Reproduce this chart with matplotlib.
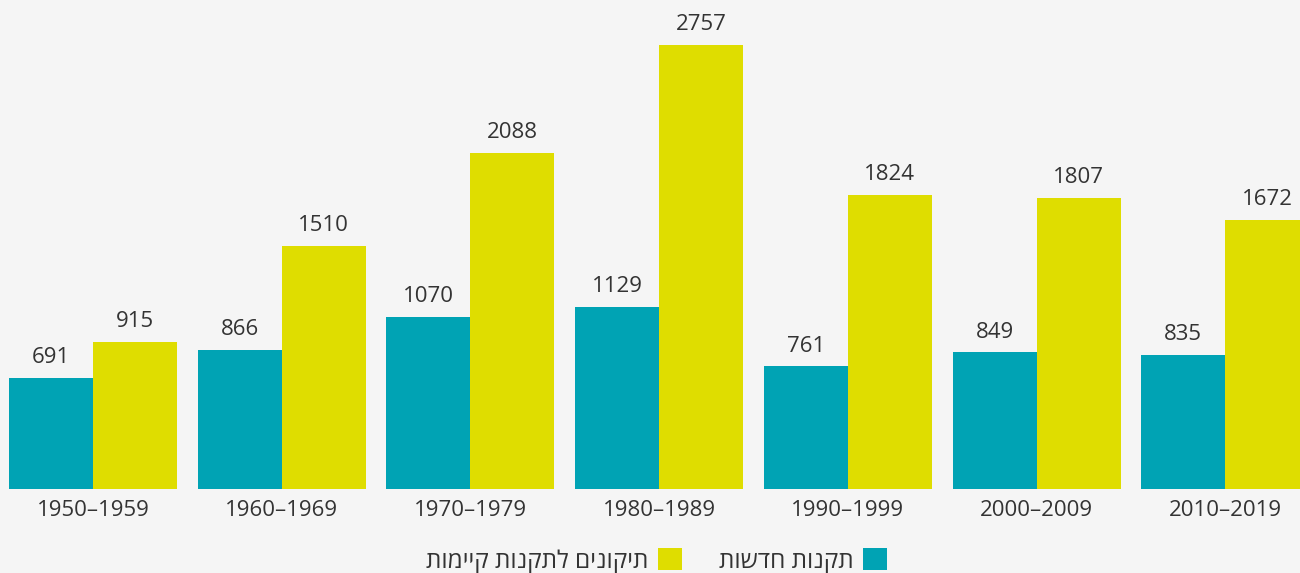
import matplotlib
matplotlib.use("Agg")
import matplotlib.pyplot as plt
import numpy as np

plt.rcParams['font.family'] = ['Open Sans', 'DejaVu Sans']

decades = ['1950-1959', '1960-1969', '1970-1979', '1980-1989',
           '1990-1999', '2000-2009', '2010-2019']
new_regs = [691, 866, 1070, 1129, 761, 849, 835]
amendments = [915, 1510, 2088, 2757, 1824, 1807, 1672]

label_new = 'תקנות חדשות'
label_amend = 'תיקונים לתקנות קיימות'

teal = '#00A3B4'
yellow = '#DFDD00'
bg = '#F5F5F5'
txt = '#333333'

fig = plt.figure(figsize=(13, 5.73), dpi=100, facecolor=bg)
ax = fig.add_axes([0, 0.1466, 1, 0.8534])
ax.set_facecolor(bg)

x = np.arange(len(decades))
w = 0.445
b1 = ax.bar(x - w/2, new_regs, w, color=teal, label=label_new[::-1])
b2 = ax.bar(x + w/2, amendments, w, color=yellow, label=label_amend[::-1])
ax.bar_label(b1, padding=7, fontsize=16, color=txt)
ax.bar_label(b2, padding=7, fontsize=16, color=txt)

ax.set_xlim(-0.493, 6.396)
ax.set_ylim(0, 3036)
ax.set_xticks(x)
ax.set_xticklabels([d.replace('-', '–') for d in decades], fontsize=16, color=txt)
ax.tick_params(axis='x', length=0, pad=8)
ax.set_yticks([])
for s in ax.spines.values():
    s.set_visible(False)

fig.legend(handles=[b2, b1], loc='center', bbox_to_anchor=(0.505, 0.021),
           ncol=2, frameon=False, markerfirst=False, fontsize=17.5,
           handlelength=1.0, handleheight=1.0, handletextpad=0.4,
           columnspacing=1.5, labelcolor=txt)

fig.savefig('out.png', dpi=100, facecolor=bg)
